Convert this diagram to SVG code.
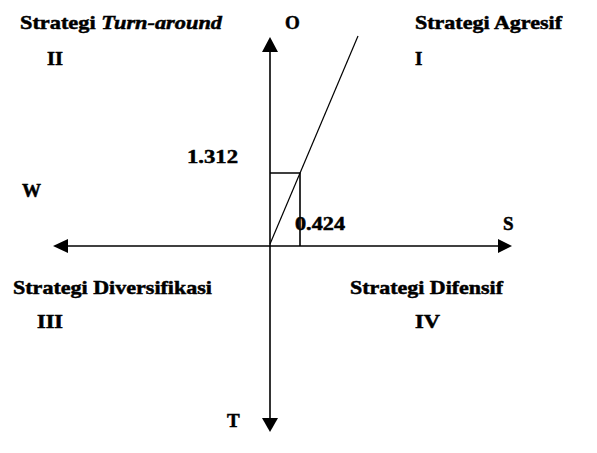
<svg xmlns="http://www.w3.org/2000/svg" width="597" height="453" viewBox="0 0 597 453">
<style>
text{font-family:"Liberation Serif","Times New Roman",serif;font-weight:bold;font-size:19px;fill:#000;stroke:#000;stroke-width:0.5}
.ax{stroke:#000;stroke-width:1.6;fill:none}
.thin{stroke:#000;stroke-width:1.2;fill:none}
.ah{fill:#000}
</style>
<rect width="597" height="453" fill="#fff"/>
<g id="connectors">
<line class="ax" x1="270" y1="50" x2="270" y2="418"/>
<polygon class="ah" points="270,37 262,52 278,52"/>
<polygon class="ah" points="270,432 262,418 278,418"/>
<line class="ax" x1="66" y1="246" x2="500" y2="246"/>
<polygon class="ah" points="53,246 68,239 68,253"/>
<polygon class="ah" points="512,246 498,239 498,253"/>
<polyline class="ax" points="270,173 300,173 300,246"/>
<line class="thin" x1="270" y1="244" x2="358" y2="36"/>
</g>
<g id="q1"><text x="415" y="29" textLength="147" lengthAdjust="spacingAndGlyphs">Strategi Agresif</text><text x="415" y="65">I</text></g>
<g id="q2"><text x="20" y="29" textLength="202" lengthAdjust="spacingAndGlyphs">Strategi <tspan font-style="italic">Turn-around</tspan></text><text x="47" y="65" textLength="16" lengthAdjust="spacingAndGlyphs">II</text></g>
<g id="q3"><text x="13" y="294" textLength="199" lengthAdjust="spacingAndGlyphs">Strategi Diversifikasi</text><text x="37" y="328" textLength="26" lengthAdjust="spacingAndGlyphs">III</text></g>
<g id="q4"><text x="350" y="294" textLength="153" lengthAdjust="spacingAndGlyphs">Strategi Difensif</text><text x="415" y="328" textLength="25" lengthAdjust="spacingAndGlyphs">IV</text></g>
<g id="axis-labels">
<text x="285" y="29">O</text>
<text x="22" y="197">W</text>
<text x="503" y="230">S</text>
<text x="227" y="427">T</text>
</g>
<g id="values">
<text x="187" y="163" textLength="51" lengthAdjust="spacingAndGlyphs">1.312</text>
<text x="295" y="230" textLength="50" lengthAdjust="spacingAndGlyphs">0.424</text>
</g>
</svg>
